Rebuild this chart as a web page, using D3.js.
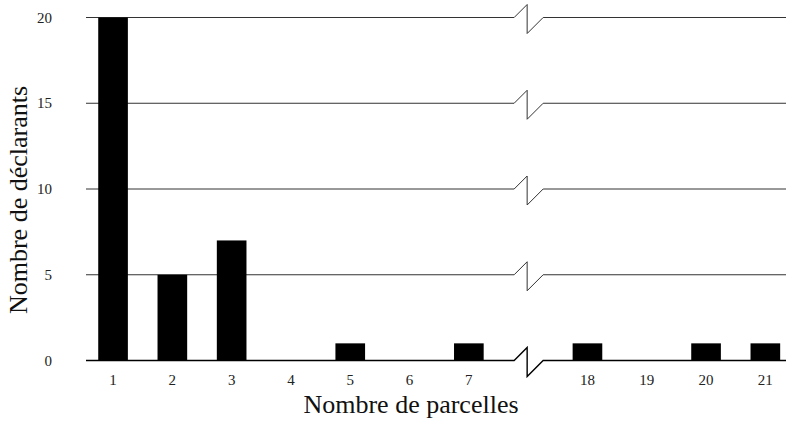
<!DOCTYPE html>
<html>
<head>
<meta charset="utf-8">
<script src="https://cdn.jsdelivr.net/npm/d3@7"></script>
<style>
  body { margin: 0; background: #fff; }
  text { font-family: "Liberation Serif", "DejaVu Serif", serif; }
</style>
</head>
<body>
<div id="chart"></div>
<script>
// data
var categories = ["1", "2", "3", "4", "5", "6", "7", "18", "19", "20", "21"];
var counts     = [20, 5, 7, 0, 1, 0, 1, 1, 0, 1, 1];
var yTicks     = [0, 5, 10, 15, 20];
var xTitle = "Nombre de parcelles";
var yTitle = "Nombre de déclarants";

var width = 786, height = 424;
var gridLeft = 86, gridRight = 786;

// slot list with an empty slot where the axis is broken
var slots = categories.slice(0, 7).concat(["break"], categories.slice(7));

var x = d3.scaleBand()
  .domain(slots)
  .range([83.4, 83.4 + 12 * 59.3])
  .paddingInner(0.5)
  .paddingOuter(0.25);

var y = d3.scaleLinear()
  .domain([0, 20])
  .range([360.5, 17.5]);

var svg = d3.select('#chart').append('svg')
  .attr('width', width)
  .attr('height', height);

var breakX = x('break') + x.bandwidth() / 2;

function gridPath(v) {
  var yy = y(v);
  return 'M' + gridLeft + ',' + yy +
    'H' + (breakX - 14) +
    'L' + (breakX - 1) + ',' + (yy - 13) +
    'V' + (yy + 16) +
    'L' + (breakX + 15) + ',' + yy +
    'H' + gridRight;
}

svg.append('g').attr('class', 'grid')
  .selectAll('path')
  .data(yTicks)
  .enter().append('path')
    .attr('d', gridPath)
    .attr('fill', 'none')
    .attr('stroke', function(d) { return d === 0 ? '#000' : '#333'; })
    .attr('stroke-width', function(d) { return d === 0 ? 1.4 : 1; });

// bars
svg.append('g').attr('class', 'bars')
  .selectAll('rect')
  .data(categories)
  .enter().append('rect')
    .attr('x', function(d) { return x(d); })
    .attr('width', x.bandwidth())
    .attr('y', function(d, i) { return y(counts[i]); })
    .attr('height', function(d, i) { return y(0) - y(counts[i]); })
    .attr('fill', '#000');

// y tick labels
svg.append('g').attr('class', 'ylabels')
  .selectAll('text')
  .data(yTicks)
  .enter().append('text')
    .attr('x', 52)
    .attr('y', function(d) { return y(d) + 5; })
    .attr('text-anchor', 'end')
    .attr('font-size', 15)
    .attr('fill', '#222')
    .text(function(d) { return d; });

// x tick labels
svg.append('g').attr('class', 'xlabels')
  .selectAll('text')
  .data(categories)
  .enter().append('text')
    .attr('x', function(d) { return x(d) + x.bandwidth() / 2; })
    .attr('y', 385)
    .attr('text-anchor', 'middle')
    .attr('font-size', 15)
    .attr('fill', '#222')
    .text(function(d) { return d; });

// axis titles
svg.append('text')
  .attr('x', 411)
  .attr('y', 413)
  .attr('text-anchor', 'middle')
  .attr('font-size', 26)
  .attr('fill', '#111')
  .text(xTitle);

svg.append('text')
  .attr('transform', 'translate(27,200) rotate(-90)')
  .attr('text-anchor', 'middle')
  .attr('font-size', 26)
  .attr('fill', '#111')
  .text(yTitle);
</script>
</body>
</html>
